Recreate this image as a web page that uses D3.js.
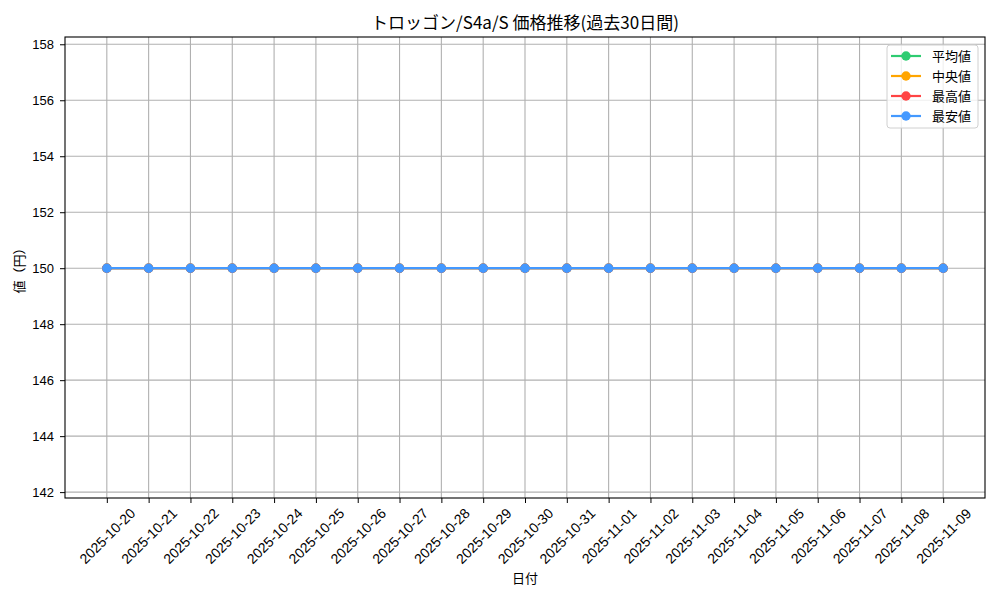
<!DOCTYPE html>
<html lang="ja">
<head>
<meta charset="UTF-8">
<title>価格推移</title>
<script src="https://d3js.org/d3.v7.min.js"></script>
<style>
  body { margin: 0; background: #fff; }
  svg { font-family: "Noto Sans CJK JP", "DejaVu Sans", sans-serif; }
  .tick text { font-size: 13px; fill: #000; }
  .x-axis .tick text { font-size: 14px; }
  .grid line { stroke: #b0b0b0; stroke-width: 1.1; }
</style>
</head>
<body>
<svg width="1000" height="600"></svg>
<script>
// データ
const dates = ["2025-10-20","2025-10-21","2025-10-22","2025-10-23","2025-10-24","2025-10-25","2025-10-26",
  "2025-10-27","2025-10-28","2025-10-29","2025-10-30","2025-10-31","2025-11-01","2025-11-02",
  "2025-11-03","2025-11-04","2025-11-05","2025-11-06","2025-11-07","2025-11-08","2025-11-09"];
const avgValues  = [150,150,150,150,150,150,150,150,150,150,150,150,150,150,150,150,150,150,150,150,150];
const medValues  = [150,150,150,150,150,150,150,150,150,150,150,150,150,150,150,150,150,150,150,150,150];
const maxValues  = [150,150,150,150,150,150,150,150,150,150,150,150,150,150,150,150,150,150,150,150,150];
const minValues  = [150,150,150,150,150,150,150,150,150,150,150,150,150,150,150,150,150,150,150,150,150];
const seriesNames = ["平均値", "中央値", "最高値", "最安値"];
const yTicks = [142,144,146,148,150,152,154,156,158];

const colors = ["#2ecc71", "#ffa500", "#ff4444", "#4499ff"];
const series = [avgValues, medValues, maxValues, minValues];

const svg = d3.select("svg");
const pL = 65, pR = 985, pT = 37, pB = 498;

// x はインデックスで、前後に1日分の余白
const x = d3.scaleLinear().domain([-1, dates.length]).range([pL, pR]);
const y = d3.scaleLinear().domain([141.79, 158.26]).range([pB, pT]);

// グリッド
svg.append("g").attr("class", "grid")
  .selectAll("line").data(d3.range(dates.length)).join("line")
  .attr("x1", d => x(d)).attr("x2", d => x(d))
  .attr("y1", pT).attr("y2", pB);
svg.append("g").attr("class", "grid")
  .selectAll("line").data(yTicks).join("line")
  .attr("x1", pL).attr("x2", pR)
  .attr("y1", d => y(d)).attr("y2", d => y(d));

// x軸（ラベルは45度回転、中心合わせ）
const xAxis = svg.append("g")
  .attr("class", "x-axis")
  .attr("transform", `translate(0,${pB})`)
  .call(d3.axisBottom(x).tickValues(d3.range(dates.length)).tickFormat(i => dates[i])
    .tickSize(5).tickSizeOuter(0));
xAxis.select(".domain").remove();
xAxis.selectAll(".tick text")
  .attr("text-anchor", "middle")
  .attr("dominant-baseline", "central")
  .attr("dy", null).attr("y", 0)
  .attr("transform", "translate(0,38) rotate(-45)");

// y軸
const yAxis = svg.append("g")
  .attr("transform", `translate(${pL},0)`)
  .call(d3.axisLeft(y).tickValues(yTicks).tickSize(5).tickPadding(6));
yAxis.select(".domain").remove();

// 枠
svg.append("rect")
  .attr("x", pL).attr("y", pT)
  .attr("width", pR - pL).attr("height", pB - pT)
  .attr("fill", "none").attr("stroke", "#000").attr("stroke-width", 1.1);

// 線とマーカー
const line = d3.line().x((d, i) => x(i)).y(d => y(d));
series.forEach((vals, k) => {
  svg.append("path").datum(vals)
    .attr("d", line).attr("fill", "none")
    .attr("stroke", colors[k]).attr("stroke-width", 2.2);
  svg.append("g").selectAll("circle").data(vals).join("circle")
    .attr("cx", (d, i) => x(i)).attr("cy", d => y(d)).attr("r", 4.7)
    .attr("fill", colors[k]);
});

// タイトル・軸ラベル
svg.append("text")
  .attr("x", (pL + pR) / 2).attr("y", 29)
  .attr("text-anchor", "middle").attr("font-size", 17)
  .text("トロッゴン/S4a/S 価格推移(過去30日間)");
svg.append("text")
  .attr("x", (pL + pR) / 2).attr("y", 583)
  .attr("text-anchor", "middle").attr("font-size", 13)
  .text("日付");
svg.append("text")
  .attr("transform", `translate(24,${(pT + pB) / 2}) rotate(-90)`)
  .attr("text-anchor", "middle").attr("font-size", 13)
  .text("値（円）");

// 凡例
const lg = svg.append("g").attr("transform", "translate(887,45)");
lg.append("rect")
  .attr("width", 91).attr("height", 83).attr("rx", 3)
  .attr("fill", "#fff").attr("fill-opacity", 0.8)
  .attr("stroke", "#d0d0d0");
seriesNames.forEach((name, k) => {
  const row = lg.append("g").attr("transform", `translate(0,${11 + k * 20})`);
  row.append("line").attr("x1", 4).attr("x2", 34)
    .attr("stroke", colors[k]).attr("stroke-width", 2.2);
  row.append("circle").attr("cx", 19).attr("r", 4.7).attr("fill", colors[k]);
  row.append("text").attr("x", 45).attr("y", 5)
    .attr("font-size", 13).text(name);
});
</script>
</body>
</html>
